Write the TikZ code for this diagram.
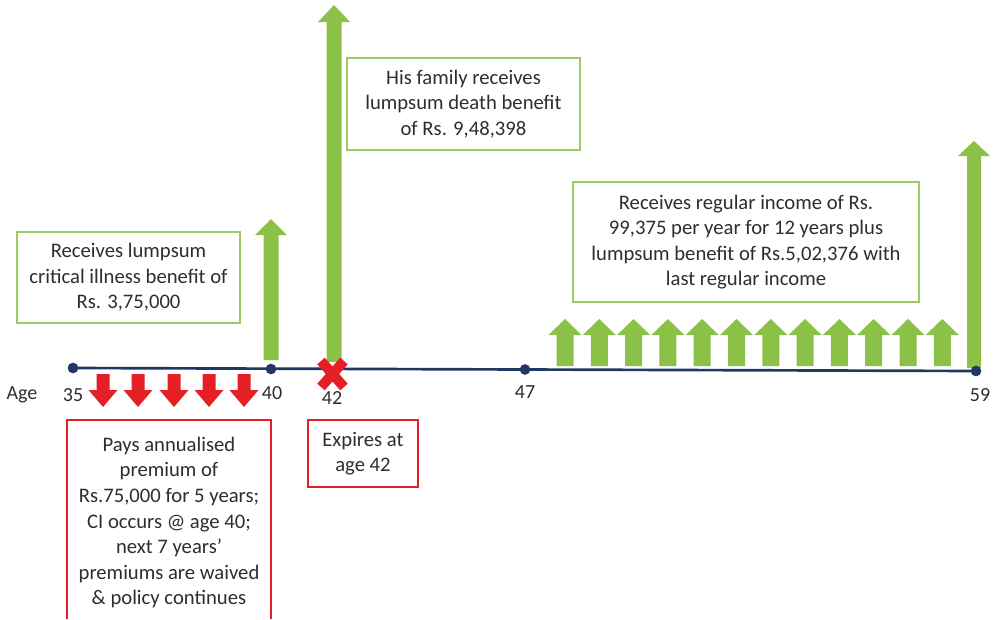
\documentclass[tikz,border=0pt]{standalone}
\usepackage{fontspec}
\setmainfont{Carlito}
\definecolor{gr}{HTML}{8BC147}
\definecolor{grb}{HTML}{9CCC65}
\definecolor{rd}{HTML}{E41F26}
\definecolor{nv}{HTML}{1F3864}
\definecolor{tx}{HTML}{2E2E2E}
\newcommand\garrow[6]{% cx, top, bottom, headhalf, shafthalf, headlen
  \fill[gr] (#1,#2) -- ({#1+#4},{#2+#6}) -- ({#1+#5},{#2+#6}) -- ({#1+#5},#3) -- ({#1-#5},#3) -- ({#1-#5},{#2+#6}) -- ({#1-#4},{#2+#6}) -- cycle;}
\newcommand\rarrow[1]{% cx
  \fill[rd] (#1,407) -- ({#1+14.5},390) -- ({#1+6.5},390) -- ({#1+6.5},374) -- ({#1-6.5},374) -- ({#1-6.5},390) -- ({#1-14.5},390) -- cycle;}
\begin{document}
\begin{tikzpicture}[x=0.75pt,y=-0.75pt,
  every node/.style={text=tx,font=\fontsize{15.5}{19.2}\selectfont},
  gbox/.style={draw=grb,line width=1.1pt,align=center,inner sep=0pt},
  rbox/.style={draw=rd,line width=1.1pt,align=center,inner sep=0pt},
  dot/.style={circle,fill=nv,inner sep=0pt,minimum size=8pt},
  lab/.style={font=\fontsize{15}{18}\selectfont}]
\useasboundingbox[fill=white] (0,0) rectangle (1001,619);
% timeline
\coordinate (t35) at (73,368);
\coordinate (t59) at (976,371);
\draw[nv,line width=2pt] (t35) -- (t59);
% green arrows
\garrow{271}{219}{360}{16}{7.5}{16}
\garrow{334}{5}{362}{16}{7.5}{17}
\garrow{974}{141}{368}{16}{7}{15}
\foreach \i in {0,...,11}{\pgfmathsetmacro\cx{565+\i*34.3}\garrow{\cx}{319}{366}{16.5}{8.5}{16}}
% red arrows
\foreach \cx in {103,138,174,209,244}{\rarrow{\cx}}
% dots
\node[dot] (d35) at (t35) {};
\node[dot] (d40) at (271,369) {};
\node[dot] (d47) at (525,369.5) {};
\node[dot] (d59) at (t59) {};
% X mark
\draw[rd,line width=7.5pt] (321,361) -- (344,387) (344,361) -- (321,387);
% labels
\node[lab] (age) at (22,395) {Age};
\node[lab] (l35) at (73,395) {35};
\node[lab] (l40) at (272,393) {40};
\node[lab] (l42) at (332,398) {42};
\node[lab] (l47) at (525,392) {47};
\node[lab] (l59) at (980,395) {59};
% boxes
\node[gbox,minimum width=223*0.75pt,minimum height=91*0.75pt] (b1) at (128.5,277.5)
  {Receives lumpsum\\critical illness benefit of\\Rs. 3,75,000};
\node[gbox,minimum width=233*0.75pt,minimum height=92*0.75pt] (b2) at (463.5,104)
  {His family receives\\lumpsum death benefit\\of Rs. 9,48,398};
\node[gbox,minimum width=346*0.75pt,minimum height=120*0.75pt] (b3) at (746,242)
  {Receives regular income of Rs.\\99,375 per year for 12 years plus\\lumpsum benefit of Rs.5,02,376 with\\last regular income};
\node[rbox,minimum width=110*0.75pt,minimum height=67*0.75pt] (b5) at (363,453.5)
  {Expires at\\age 42};
\draw[rd,line width=1.1pt] (67,619) -- (67,420) -- (271,420) -- (271,619);
\node[align=center,inner sep=0pt] (b4) at (169,522.5)
  {Pays annualised\\premium of\\Rs.75,000 for 5 years;\\CI occurs @ age 40;\\next 7 years’\\premiums are waived\\\& policy continues};
\end{tikzpicture}
\end{document}
